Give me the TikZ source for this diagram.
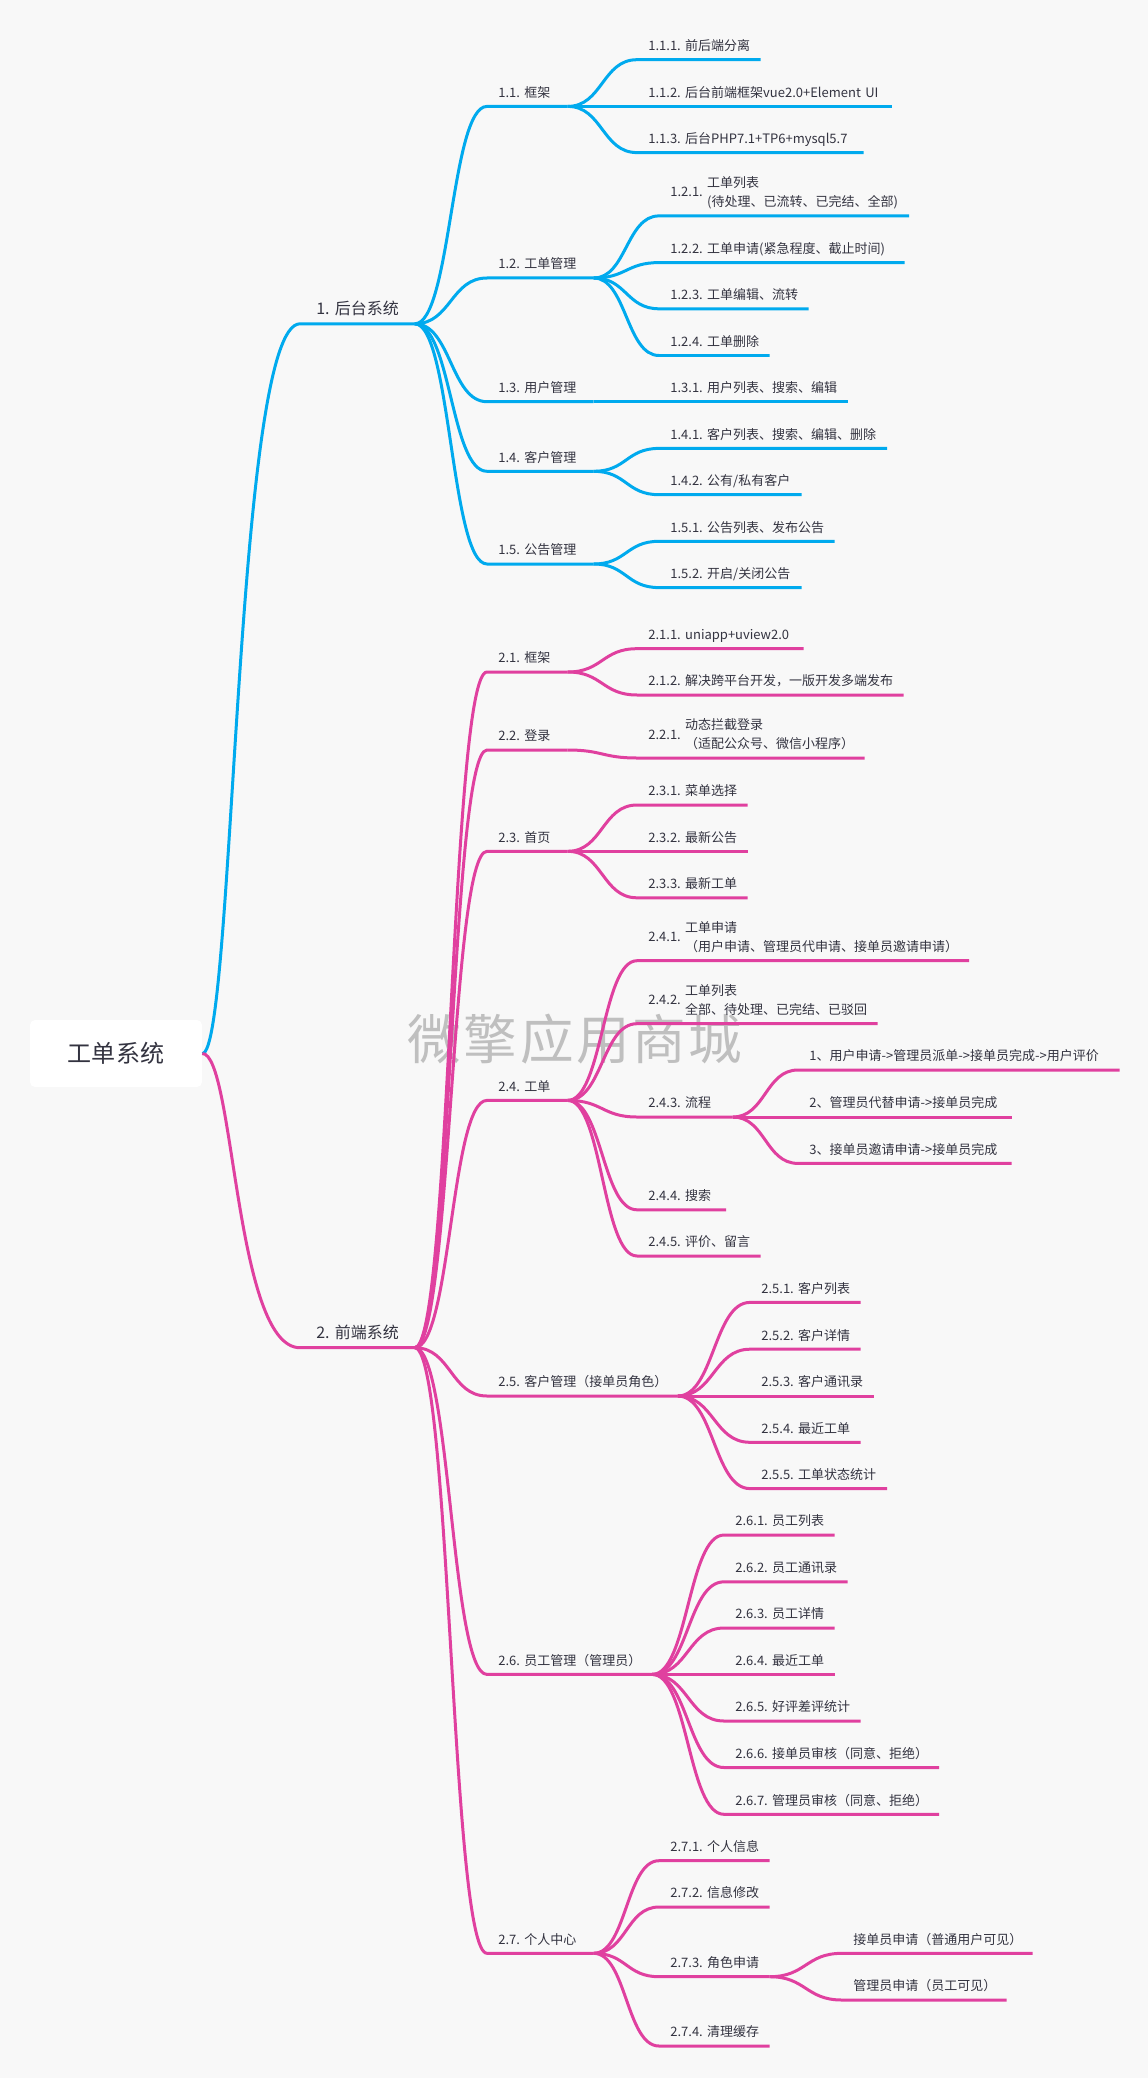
\documentclass[tikz,border=0pt]{standalone}
\usepackage{fontspec}
\setmainfont{Noto Sans CJK SC}
\newfontfamily\markfont[LetterSpace=5]{Noto Sans CJK SC}
\usepackage{xcolor}
\usetikzlibrary{calc}

\definecolor{bgcol}{HTML}{F8F8F8}
\definecolor{txtcol}{HTML}{333340}
\definecolor{backcol}{HTML}{00AAEE}
\definecolor{frontcol}{HTML}{E0409F}

\newcommand{\twolines}[3]{\raisebox{0.195cm}{#1} \begin{tabular}[b]{@{}l@{}}#2\\#3\end{tabular}}

\tikzset{
    topic/.style={anchor=south west, inner xsep=0pt, inner ysep=0.06cm, align=left, text=txtcol,
        font=\fontsize{7.4pt}{11.1pt}\selectfont, execute at begin node={\frenchspacing\hspace*{0.22cm}\strut}},
    bigtopic/.style={topic, font=\fontsize{9.1pt}{11.1pt}\selectfont, execute at begin node={\hspace*{0.1cm}}},
    len/.style={text width=#1*0.02cm},
    rootbox/.style={fill=white, rounded corners=0.1cm, minimum width=3.44cm, minimum height=1.34cm,
        text=txtcol, font=\fontsize{13.7pt}{16pt}\selectfont},
    branch/.style={to path={let \p1=(\tikztostart), \p2=(\tikztotarget), \n1={#1*(\x2-\x1)} in
        .. controls (\x1+\n1,\y1) and (\x1+\n1,\y2) .. (\tikztotarget)}},
    branch/.default=0.5,
    backline/.style={draw=backcol, line width=0.06cm},
    frontline/.style={draw=frontcol, line width=0.06cm}
}

\begin{document}
\begin{tikzpicture}[x=0.02cm,y=-0.02cm]
    \fill[bgcol] (0,0) rectangle (1148,2078);
    \useasboundingbox (0,0) rectangle (1148,2078);

    \node[text=gray!50, font=\fontsize{30.5pt}{34pt}\markfont] (mark) at (575,1039) {微擎应用商城};

    \node[rootbox] (root) at (116,1053.5) {工单系统};

    % back end
    \node[bigtopic,len=114] (b) at (300,323.8) {1. 后台系统};
    \node[topic,len=80] (b1) at (487,106.4) {1.1. 框架};
    \node[topic,len=123] (b11) at (637,59.7) {1.1.1. 前后端分离};
    \node[topic,len=254] (b12) at (637,106.4) {1.1.2. 后台前端框架vue2.0+Element UI};
    \node[topic,len=226] (b13) at (637,152.6) {1.1.3. 后台PHP7.1+TP6+mysql5.7};
    \node[topic,len=106] (b2) at (487,278) {1.2. 工单管理};
    \node[topic,len=249.5] (b21) at (659,215.9) {\twolines{1.2.1.}{工单列表}{(待处理、已流转、已完结、全部)}};
    \node[topic,len=245] (b22) at (659,262.6) {1.2.2. 工单申请(紧急程度、截止时间)};
    \node[topic,len=149] (b23) at (659,308.8) {1.2.3. 工单编辑、流转};
    \node[topic,len=110] (b24) at (659,355.5) {1.2.4. 工单删除};
    \node[topic,len=106] (b3) at (487,401.7) {1.3. 用户管理};
    \node[topic,len=188] (b31) at (659,401.7) {1.3.1. 用户列表、搜索、编辑};
    \node[topic,len=106] (b4) at (487,471.3) {1.4. 客户管理};
    \node[topic,len=227.5] (b41) at (659,448.4) {1.4.1. 客户列表、搜索、编辑、删除};
    \node[topic,len=142] (b42) at (659,494.7) {1.4.2. 公有/私有客户};
    \node[topic,len=106] (b5) at (487,564) {1.5. 公告管理};
    \node[topic,len=175] (b51) at (659,541.3) {1.5.1. 公告列表、发布公告};
    \node[topic,len=142] (b52) at (659,587.6) {1.5.2. 开启/关闭公告};

    % front end
    \node[bigtopic,len=114] (f) at (300,1347.7) {2. 前端系统};
    \node[topic,len=80] (f1) at (487,672) {2.1. 框架};
    \node[topic,len=166] (f11) at (637,648.7) {2.1.1. uniapp+uview2.0};
    \node[topic,len=266] (f12) at (637,695) {2.1.2. 解决跨平台开发，一版开发多端发布};
    \node[topic,len=80] (f2) at (487,750) {2.2. 登录};
    \node[topic,len=227] (f21) at (637,758) {\twolines{2.2.1.}{动态拦截登录}{（适配公众号、微信小程序）}};
    \node[topic,len=80] (f3) at (487,851.3) {2.3. 首页};
    \node[topic,len=110] (f31) at (637,805) {2.3.1. 菜单选择};
    \node[topic,len=110] (f32) at (637,851.3) {2.3.2. 最新公告};
    \node[topic,len=110] (f33) at (637,897.8) {2.3.3. 最新工单};
    \node[topic,len=80] (f4) at (487,1100.4) {2.4. 工单};
    \node[topic,len=331.5] (f41) at (637,960.7) {\twolines{2.4.1.}{工单申请}{（用户申请、管理员代申请、接单员邀请申请）}};
    \node[topic,len=240] (f42) at (637,1023.7) {\twolines{2.4.2.}{工单列表}{全部、待处理、已完结、已驳回}};
    \node[topic,len=95] (f43) at (637,1117) {2.4.3. 流程};
    \node[topic,len=321] (f431) at (798,1070) {1、用户申请->管理员派单->接单员完成->用户评价};
    \node[topic,len=213] (f432) at (798,1117) {2、管理员代替申请->接单员完成};
    \node[topic,len=213] (f433) at (798,1163.4) {3、接单员邀请申请->接单员完成};
    \node[topic,len=88.5] (f44) at (637,1209.8) {2.4.4. 搜索};
    \node[topic,len=123] (f45) at (637,1256) {2.4.5. 评价、留言};
    \node[topic,len=190] (f5) at (487,1396) {2.5. 客户管理（接单员角色）};
    \node[topic,len=110] (f51) at (750,1302.4) {2.5.1. 客户列表};
    \node[topic,len=110] (f52) at (750,1349.2) {2.5.2. 客户详情};
    \node[topic,len=123] (f53) at (750,1396) {2.5.3. 客户通讯录};
    \node[topic,len=110] (f54) at (750,1442.3) {2.5.4. 最近工单};
    \node[topic,len=136.5] (f55) at (750,1488.6) {2.5.5. 工单状态统计};
    \node[topic,len=164.5] (f6) at (487,1674.4) {2.6. 员工管理（管理员）};
    \node[topic,len=110] (f61) at (724,1535) {2.6.1. 员工列表};
    \node[topic,len=123] (f62) at (724,1581.8) {2.6.2. 员工通讯录};
    \node[topic,len=110] (f63) at (724,1628) {2.6.3. 员工详情};
    \node[topic,len=110] (f64) at (724,1674.4) {2.6.4. 最近工单};
    \node[topic,len=136] (f65) at (724,1721) {2.6.5. 好评差评统计};
    \node[topic,len=214.5] (f66) at (724,1767.5) {2.6.6. 接单员审核（同意、拒绝）};
    \node[topic,len=214.5] (f67) at (724,1814.3) {2.6.7. 管理员审核（同意、拒绝）};
    \node[topic,len=106] (f7) at (487,1953.3) {2.7. 个人中心};
    \node[topic,len=110] (f71) at (659,1860.7) {2.7.1. 个人信息};
    \node[topic,len=110] (f72) at (659,1907) {2.7.2. 信息修改};
    \node[topic,len=110] (f73) at (659,1976.7) {2.7.3. 角色申请};
    \node[topic,len=190] (f731) at (842,1953.3) {接单员申请（普通用户可见）};
    \node[topic,len=164] (f732) at (842,2000) {管理员申请（员工可见）};
    \node[topic,len=110] (f74) at (659,2046) {2.7.4. 清理缓存};

    % blue branches
    \draw[backline] (root.east) to[branch=0.33] (b.south west) -- (b.south east);
    \draw[backline] (b.south east) to[branch] (b1.south west) -- (b1.south east);
    \draw[backline] (b1.south east) to[branch] (b11.south west) -- (b11.south east);
    \draw[backline] (b1.south east) to[branch] (b12.south west) -- (b12.south east);
    \draw[backline] (b1.south east) to[branch] (b13.south west) -- (b13.south east);
    \draw[backline] (b.south east) to[branch] (b2.south west) -- (b2.south east);
    \draw[backline] (b2.south east) to[branch] (b21.south west) -- (b21.south east);
    \draw[backline] (b2.south east) to[branch] (b22.south west) -- (b22.south east);
    \draw[backline] (b2.south east) to[branch] (b23.south west) -- (b23.south east);
    \draw[backline] (b2.south east) to[branch] (b24.south west) -- (b24.south east);
    \draw[backline] (b.south east) to[branch] (b3.south west) -- (b3.south east);
    \draw[backline] (b3.south east) to[branch] (b31.south west) -- (b31.south east);
    \draw[backline] (b.south east) to[branch] (b4.south west) -- (b4.south east);
    \draw[backline] (b4.south east) to[branch] (b41.south west) -- (b41.south east);
    \draw[backline] (b4.south east) to[branch] (b42.south west) -- (b42.south east);
    \draw[backline] (b.south east) to[branch] (b5.south west) -- (b5.south east);
    \draw[backline] (b5.south east) to[branch] (b51.south west) -- (b51.south east);
    \draw[backline] (b5.south east) to[branch] (b52.south west) -- (b52.south east);

    % pink branches
    \draw[frontline] (root.east) to[branch=0.33] (f.south west) -- (f.south east);
    \draw[frontline] (f.south east) to[branch] (f1.south west) -- (f1.south east);
    \draw[frontline] (f1.south east) to[branch] (f11.south west) -- (f11.south east);
    \draw[frontline] (f1.south east) to[branch] (f12.south west) -- (f12.south east);
    \draw[frontline] (f.south east) to[branch] (f2.south west) -- (f2.south east);
    \draw[frontline] (f2.south east) to[branch] (f21.south west) -- (f21.south east);
    \draw[frontline] (f.south east) to[branch] (f3.south west) -- (f3.south east);
    \draw[frontline] (f3.south east) to[branch] (f31.south west) -- (f31.south east);
    \draw[frontline] (f3.south east) to[branch] (f32.south west) -- (f32.south east);
    \draw[frontline] (f3.south east) to[branch] (f33.south west) -- (f33.south east);
    \draw[frontline] (f.south east) to[branch] (f4.south west) -- (f4.south east);
    \draw[frontline] (f4.south east) to[branch] (f41.south west) -- (f41.south east);
    \draw[frontline] (f4.south east) to[branch] (f42.south west) -- (f42.south east);
    \draw[frontline] (f4.south east) to[branch] (f43.south west) -- (f43.south east);
    \draw[frontline] (f43.south east) to[branch] (f431.south west) -- (f431.south east);
    \draw[frontline] (f43.south east) to[branch] (f432.south west) -- (f432.south east);
    \draw[frontline] (f43.south east) to[branch] (f433.south west) -- (f433.south east);
    \draw[frontline] (f4.south east) to[branch] (f44.south west) -- (f44.south east);
    \draw[frontline] (f4.south east) to[branch] (f45.south west) -- (f45.south east);
    \draw[frontline] (f.south east) to[branch] (f5.south west) -- (f5.south east);
    \draw[frontline] (f5.south east) to[branch] (f51.south west) -- (f51.south east);
    \draw[frontline] (f5.south east) to[branch] (f52.south west) -- (f52.south east);
    \draw[frontline] (f5.south east) to[branch] (f53.south west) -- (f53.south east);
    \draw[frontline] (f5.south east) to[branch] (f54.south west) -- (f54.south east);
    \draw[frontline] (f5.south east) to[branch] (f55.south west) -- (f55.south east);
    \draw[frontline] (f.south east) to[branch] (f6.south west) -- (f6.south east);
    \draw[frontline] (f6.south east) to[branch] (f61.south west) -- (f61.south east);
    \draw[frontline] (f6.south east) to[branch] (f62.south west) -- (f62.south east);
    \draw[frontline] (f6.south east) to[branch] (f63.south west) -- (f63.south east);
    \draw[frontline] (f6.south east) to[branch] (f64.south west) -- (f64.south east);
    \draw[frontline] (f6.south east) to[branch] (f65.south west) -- (f65.south east);
    \draw[frontline] (f6.south east) to[branch] (f66.south west) -- (f66.south east);
    \draw[frontline] (f6.south east) to[branch] (f67.south west) -- (f67.south east);
    \draw[frontline] (f.south east) to[branch] (f7.south west) -- (f7.south east);
    \draw[frontline] (f7.south east) to[branch] (f71.south west) -- (f71.south east);
    \draw[frontline] (f7.south east) to[branch] (f72.south west) -- (f72.south east);
    \draw[frontline] (f7.south east) to[branch] (f73.south west) -- (f73.south east);
    \draw[frontline] (f73.south east) to[branch] (f731.south west) -- (f731.south east);
    \draw[frontline] (f73.south east) to[branch] (f732.south west) -- (f732.south east);
    \draw[frontline] (f7.south east) to[branch] (f74.south west) -- (f74.south east);
\end{tikzpicture}
\end{document}
